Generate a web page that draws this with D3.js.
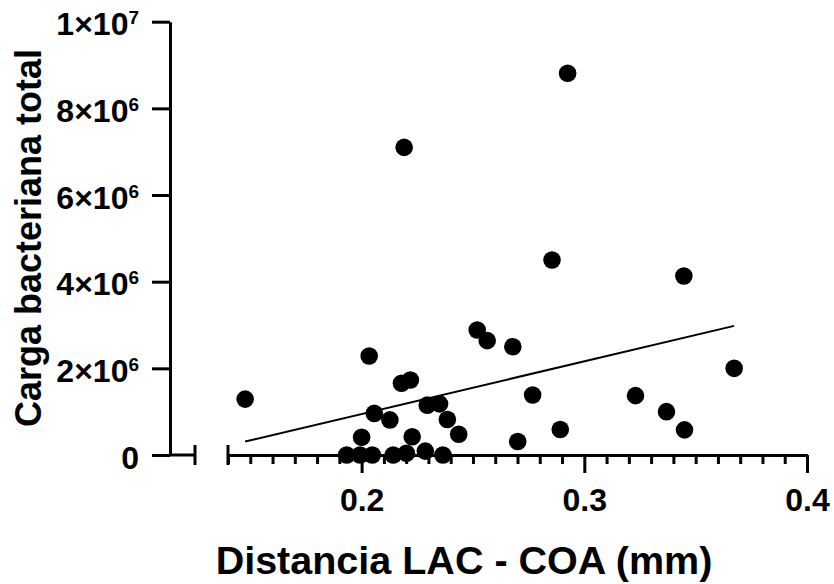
<!DOCTYPE html>
<html>
<head>
<meta charset="utf-8">
<script src="https://cdn.jsdelivr.net/npm/d3@7"></script>
<style>
  body { margin: 0; background: #fff; }
  svg text { font-family: "Liberation Sans", Arial, sans-serif; font-weight: bold; fill: #000; }
  .c-axis path, .c-axis line { stroke: #000; stroke-width: 3; }
</style>
</head>
<body>
<div id="chart"></div>
<script>
// values
const distancia = [0.1477, 0.2034, 0.2179, 0.2219, 0.2057, 0.2127, 0.2295, 0.2350, 0.2385, 0.2436,
  0.2000, 0.2227, 0.1933, 0.1993, 0.2048, 0.2142, 0.2201, 0.2286, 0.2365, 0.2519,
  0.2564, 0.2679, 0.2768, 0.2701, 0.2892, 0.3447, 0.3673, 0.3230, 0.3369, 0.3450,
  0.2925, 0.2191, 0.2855];
const carga = [1.29e6, 2.285e6, 1.655e6, 1.73e6, 0.96e6, 0.81e6, 1.15e6, 1.18e6, 0.82e6, 0.48e6,
  0.41e6, 0.42e6, 0, 0, 0, 0, 0.04e6, 0.09e6, 0, 2.885e6,
  2.64e6, 2.5e6, 1.385e6, 0.31e6, 0.59e6, 4.13e6, 2.0e6, 1.37e6, 1.0e6, 0.58e6,
  8.81e6, 7.10e6, 4.5e6];

// fitted line ends
const fitX = [0.1477, 0.3673];
const fitY = [0.31e6, 2.98e6];

const xMajorTicks = [0.2, 0.3, 0.4];
const xTickLabels = ['0.2', '0.3', '0.4'];
const yTicks = [0, 2e6, 4e6, 6e6, 8e6, 1e7];
const yTickBase = ['0', '2×10', '4×10', '6×10', '8×10', '1×10'];
const yTickExp = ['', '6', '6', '6', '6', '7'];

const xTitle = 'Distancia LAC - COA (mm)';
const yTitle = 'Carga bacteriana total';

class ScatterChart {
  constructor() {
    this.chartContainer = d3.select('#chart');
    this.chartWidth = 834;
    this.chartHeight = 584;
    this.yAxisX = 170;     // y axis position
    this.xAxisY = 455;     // x axis position
    this.chart = null;
    this.xScale = null;
    this.yScale = null;
  }

  render() {
    this.createSvg();
    this.initScales();
    this.drawAxes();
    this.drawPoints();
    this.drawLine();
    this.drawTitles();
  }

  createSvg() {
    this.chart = this.chartContainer
      .append('svg')
      .attr('width', this.chartWidth)
      .attr('height', this.chartHeight);
  }

  initScales() {
    this.xScale = d3.scaleLinear().domain([0.14, 0.4]).range([228, 807]);
    this.yScale = d3.scaleLinear().domain([0, 1e7]).range([this.xAxisY, 21.7]);
  }

  drawAxes() {
    // y axis
    let yAxis = d3.axisLeft(this.yScale)
      .tickValues(yTicks)
      .tickSize(18)
      .tickSizeOuter(0)
      .tickFormat('');

    let yg = this.chart.append('g')
      .attr('class', 'c-axis')
      .attr('transform', 'translate(' + this.yAxisX + ', 0)')
      .call(yAxis);

    yg.selectAll('.tick').each(function(d, i) {
      let t = d3.select(this).append('text')
        .attr('x', -31)
        .attr('dy', 13)
        .attr('text-anchor', 'end')
        .style('font-size', '32px');
      t.append('tspan').text(yTickBase[i]);
      if (yTickExp[i]) {
        t.append('tspan')
          .attr('dy', -11)
          .style('font-size', '19px')
          .text(yTickExp[i]);
      }
    });

    // short piece of x axis before the break
    let brk = this.chart.append('g').attr('class', 'c-axis');
    brk.append('line')
      .attr('x1', this.yAxisX).attr('x2', 195)
      .attr('y1', this.xAxisY).attr('y2', this.xAxisY);
    brk.append('line')
      .attr('x1', 195).attr('x2', 195)
      .attr('y1', this.xAxisY - 10).attr('y2', this.xAxisY + 10);
    brk.append('line')
      .attr('x1', this.xScale(0.14)).attr('x2', this.xScale(0.14))
      .attr('y1', this.xAxisY - 10).attr('y2', this.xAxisY + 10);

    // minor ticks every 0.01
    let minor = d3.range(14, 40).map(v => v / 100).filter(v => Math.abs(v * 10 - Math.round(v * 10)) > 1e-6);
    let minorAxis = d3.axisBottom(this.xScale)
      .tickValues(minor)
      .tickSize(9)
      .tickSizeOuter(0)
      .tickFormat('');
    this.chart.append('g')
      .attr('class', 'c-axis')
      .attr('transform', 'translate(0, ' + this.xAxisY + ')')
      .call(minorAxis);

    let xAxis = d3.axisBottom(this.xScale)
      .tickValues(xMajorTicks)
      .tickSize(18)
      .tickSizeOuter(0)
      .tickFormat((d, i) => xTickLabels[i]);
    let xg = this.chart.append('g')
      .attr('class', 'c-axis')
      .attr('transform', 'translate(0, ' + this.xAxisY + ')')
      .call(xAxis);
    xg.selectAll('text')
      .attr('y', 56)
      .attr('dy', null)
      .attr('fill', '#000')
      .style('font-size', '32px');
  }

  drawPoints() {
    let pts = distancia.map((d, i) => ({ x: d, y: carga[i] }));
    this.chart.append('g')
      .attr('class', 'c-points')
      .selectAll('circle')
      .data(pts)
      .enter()
      .append('circle')
      .attr('cx', d => this.xScale(d.x))
      .attr('cy', d => this.yScale(d.y))
      .attr('r', 8.8)
      .attr('fill', '#000');
  }

  drawLine() {
    let line = d3.line()
      .x(d => this.xScale(d[0]))
      .y(d => this.yScale(d[1]));
    this.chart.append('path')
      .attr('class', 'c-line')
      .attr('d', line(fitX.map((x, i) => [x, fitY[i]])))
      .attr('fill', 'none')
      .attr('stroke', '#000')
      .attr('stroke-width', 2);
  }

  drawTitles() {
    this.chart.append('text')
      .attr('x', 464)
      .attr('y', 574)
      .attr('text-anchor', 'middle')
      .style('font-size', '39.5px')
      .text(xTitle);

    this.chart.append('text')
      .attr('transform', 'translate(41, 238) rotate(-90)')
      .attr('text-anchor', 'middle')
      .style('font-size', '36px')
      .text(yTitle);
  }
}

new ScatterChart().render();
</script>
</body>
</html>
